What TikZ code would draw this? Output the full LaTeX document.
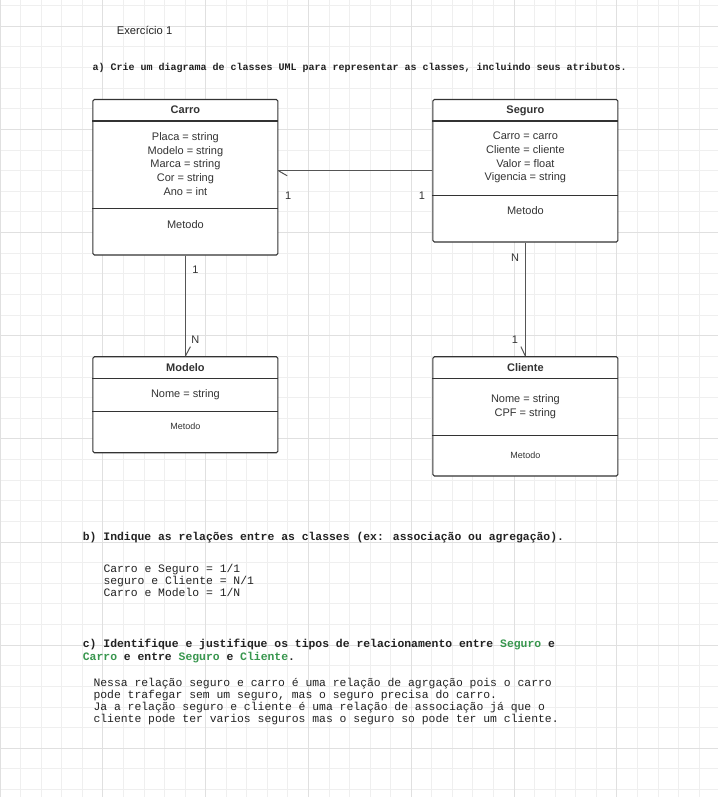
\documentclass[tikz,border=0pt]{standalone}
\usepackage{fontspec}
\setmainfont{Liberation Sans}
\newfontfamily\monofont{Liberation Mono}
\usetikzlibrary{calc}
\definecolor{txt}{HTML}{333333}
\definecolor{gridminor}{HTML}{EFEFEF}
\definecolor{gridmajor}{HTML}{E0E0E0}
\definecolor{boxline}{HTML}{333333}
\definecolor{conn}{HTML}{555555}
\definecolor{grn}{RGB}{56,150,78}
\definecolor{head}{HTML}{222222}
\tikzset{
  classbox/.style={draw=boxline, line width=1.1pt, rounded corners=1.5pt, fill=white, minimum width=185pt, inner sep=0pt},
  sepline/.style={draw=boxline, line width=1.1pt},
  ctitle/.style={font=\fontsize{11}{13}\selectfont\bfseries, text=txt, inner sep=0pt, anchor=base},
  attr/.style={font=\fontsize{11}{13.7}\selectfont, text=txt, align=center, inner sep=0pt},
  smallattr/.style={font=\fontsize{9}{11}\selectfont, text=txt, inner sep=0pt},
  mult/.style={font=\fontsize{11}{13}\selectfont, text=txt, inner sep=0pt},
  connector/.style={draw=conn, line width=1pt},
  monohead/.style={font=\monofont\fontsize{11.4}{12}\selectfont\bfseries, text=head, anchor=base west, inner sep=0pt},
  monoheadsmall/.style={font=\monofont\fontsize{10}{12}\selectfont\bfseries, text=head, anchor=base west, inner sep=0pt},
  monotext/.style={font=\monofont\fontsize{11.4}{12}\selectfont, text=head, anchor=base west, inner sep=0pt},
  plaintitle/.style={font=\fontsize{11.2}{13}\selectfont, text=head, anchor=base west, inner sep=0pt},
}
\begin{document}
\begin{tikzpicture}[x=1pt,y=-1pt]
\useasboundingbox (0,0) rectangle (718,797);
\fill[white] (0,0) rectangle (718,797);
% grid
\foreach \k in {0,...,35} \draw[gridminor, line width=0.8pt] (\k*20.56,0) -- (\k*20.56,797);
\foreach \k in {0,...,38} \draw[gridminor, line width=0.8pt] (0,5.57+\k*20.63) -- (718,5.57+\k*20.63);
\foreach \k in {0,...,7} \draw[gridmajor, line width=0.8pt] (\k*102.8,0) -- (\k*102.8,797);
\foreach \k in {0,...,7} \draw[gridmajor, line width=0.8pt] (0,26.2+\k*103.15) -- (718,26.2+\k*103.15);

% headings
\node[plaintitle] (ex) at (116.7,35) {Exercício 1};
\node[monoheadsmall] (qa) at (92.3,70.5) {a) Crie um diagrama de classes UML para representar as classes, incluindo seus atributos.};

% class boxes
\node[classbox, minimum height=155.5pt] (carro) at (185.4,177.25) {};
\node[classbox, minimum height=142.5pt] (seguro) at (525.4,170.75) {};
\node[classbox, minimum height=96pt] (modelo) at (185.4,404.7) {};
\node[classbox, minimum height=119.3pt] (cliente) at (525.4,416.35) {};

% separators
\draw[sepline] (carro.west |- 0,121) -- (carro.east |- 0,121);
\draw[sepline] (carro.west |- 0,208.7) -- (carro.east |- 0,208.7);
\draw[sepline] (seguro.west |- 0,121) -- (seguro.east |- 0,121);
\draw[sepline] (seguro.west |- 0,195.3) -- (seguro.east |- 0,195.3);
\draw[sepline] (modelo.west |- 0,378.3) -- (modelo.east |- 0,378.3);
\draw[sepline] (modelo.west |- 0,411.7) -- (modelo.east |- 0,411.7);
\draw[sepline] (cliente.west |- 0,378.3) -- (cliente.east |- 0,378.3);
\draw[sepline] (cliente.west |- 0,435.7) -- (cliente.east |- 0,435.7);

% class texts
\node[ctitle] (carrot) at (185.4,113.3) {Carro};
\node[attr] (carroa) at (185.4,164) {Placa = string\\Modelo = string\\Marca = string\\Cor = string\\Ano = int};
\node[attr] (carrom) at (185.4,224.8) {Metodo};

\node[ctitle] (segurot) at (525.4,113.3) {Seguro};
\node[attr] (seguroa) at (525.4,157.5) {Carro = carro\\Cliente = cliente\\Valor = float\\Vigencia = string};
\node[attr] (segurom) at (525.4,210.8) {Metodo};

\node[ctitle] (modelot) at (185.4,371.2) {Modelo};
\node[attr] (modeloa) at (185.4,394.5) {Nome = string};
\node[smallattr] (modelom) at (185.4,426) {Metodo};

\node[ctitle] (clientet) at (525.4,371.2) {Cliente};
\node[attr] (clientea) at (525.4,406.5) {Nome = string\\CPF = string};
\node[smallattr] (clientem) at (525.4,455.3) {Metodo};

% connectors
\draw[connector] (seguro.west) -- (seguro.west -| carro.east);
\coordinate (t1) at (seguro.west -| carro.east);
\draw[connector] (t1) -- ++(8.7,5);
\draw[connector] (carro.south) -- (modelo.north);
\draw[connector] (modelo.north) -- ++(5,-9.5);
\draw[connector] (seguro.south) -- (cliente.north);
\draw[connector] (cliente.north) -- ++(-4.5,-9.5);

% multiplicities
\node[mult] (m1) at (288.2,196) {1};
\node[mult] (m2) at (422,196) {1};
\node[mult] (m3) at (195.4,270) {1};
\node[mult] (m4) at (195.4,339.3) {N};
\node[mult] (m5) at (515,257.3) {N};
\node[mult] (m6) at (515,339.3) {1};

% part b
\node[monohead] (qb) at (82.7,540.7) {b) Indique as relações entre as classes (ex: associação ou agregação).};
\node[monotext] (b1) at (103.3,572.8) {Carro e Seguro = 1/1};
\node[monotext] (b2) at (103.3,584.8) {seguro e Cliente = N/1};
\node[monotext] (b3) at (103.3,596.8) {Carro e Modelo = 1/N};

% part c
\node[monohead] (qc1) at (82.7,647.3) {c) Identifique e justifique os tipos de relacionamento entre \textcolor{grn}{Seguro} e};
\node[monohead] (qc2) at (82.7,660.7) {\textcolor{grn}{Carro} e entre \textcolor{grn}{Seguro} e \textcolor{grn}{Cliente}.};
\node[monotext] (c1) at (93.3,686.3) {Nessa relação seguro e carro é uma relação de agrgação pois o carro};
\node[monotext] (c2) at (93.3,698) {pode trafegar sem um seguro, mas o seguro precisa do carro.};
\node[monotext] (c3) at (93.3,710) {Ja a relação seguro e cliente é uma relação de associação já que o};
\node[monotext] (c4) at (93.3,722) {cliente pode ter varios seguros mas o seguro so pode ter um cliente.};
\end{tikzpicture}
\end{document}
